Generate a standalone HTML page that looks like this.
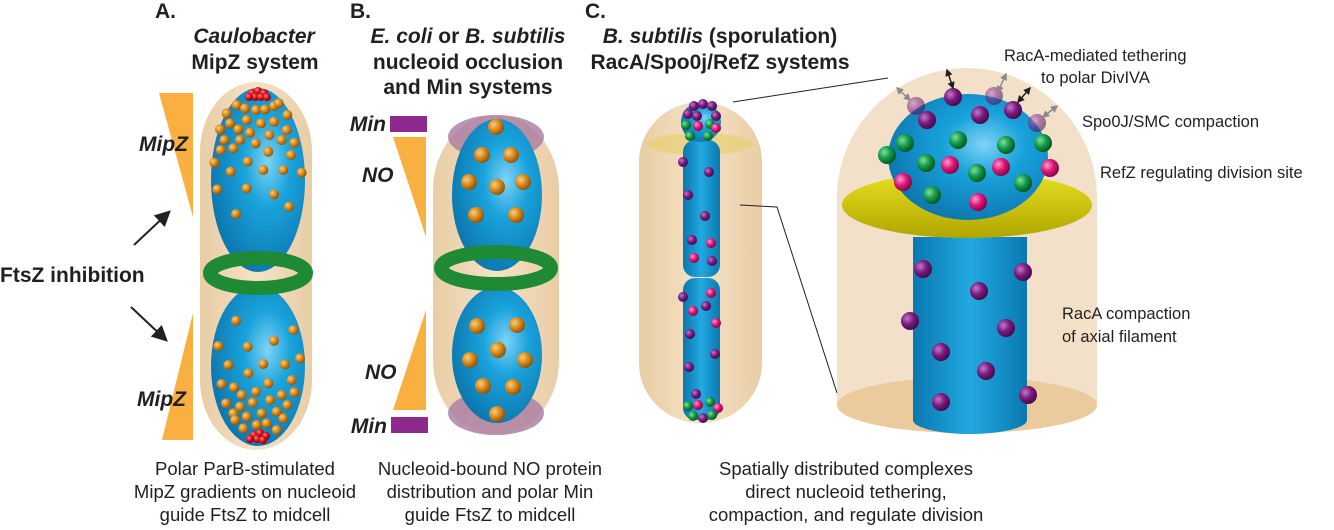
<!DOCTYPE html>
<html><head><meta charset="utf-8"><style>
html,body{margin:0;padding:0;background:#fff;}
svg{display:block;font-family:"Liberation Sans",Arial,sans-serif;}
.t{font-weight:bold;font-size:21px;fill:#231f20;}
.c{font-size:18.5px;fill:#231f20;}
.l{font-size:16.5px;fill:#231f20;}
</style></head><body>
<svg id="fig" width="1334" height="530" viewBox="0 0 1334 530" xmlns="http://www.w3.org/2000/svg">
<defs>
<radialGradient id="blue" cx="0.6" cy="0.4" r="0.7"><stop offset="0" stop-color="#7fd3f5"/><stop offset="0.35" stop-color="#1aa3dc"/><stop offset="1" stop-color="#0a6fa8"/></radialGradient>
<linearGradient id="bluec" x1="0" x2="1"><stop offset="0" stop-color="#0a78b0"/><stop offset="0.5" stop-color="#22a8e0"/><stop offset="1" stop-color="#0a78b0"/></linearGradient>
<linearGradient id="tan" x1="0" x2="1"><stop offset="0" stop-color="#e8cda5"/><stop offset="0.5" stop-color="#f6e2c6"/><stop offset="1" stop-color="#e8cda5"/></linearGradient>
<radialGradient id="or" cx="0.35" cy="0.35" r="0.7"><stop offset="0" stop-color="#f9cf7a"/><stop offset="0.5" stop-color="#d88a1c"/><stop offset="1" stop-color="#8a4e08"/></radialGradient>
<radialGradient id="rd" cx="0.35" cy="0.35" r="0.7"><stop offset="0" stop-color="#ff8080"/><stop offset="0.5" stop-color="#d9121a"/><stop offset="1" stop-color="#7a0008"/></radialGradient>
<radialGradient id="pu" cx="0.35" cy="0.35" r="0.7"><stop offset="0" stop-color="#c27ac8"/><stop offset="0.5" stop-color="#7a1a80"/><stop offset="1" stop-color="#3e0a44"/></radialGradient>
<radialGradient id="gr" cx="0.35" cy="0.35" r="0.7"><stop offset="0" stop-color="#7fe0a0"/><stop offset="0.5" stop-color="#129a48"/><stop offset="1" stop-color="#05501f"/></radialGradient>
<radialGradient id="mg" cx="0.35" cy="0.35" r="0.7"><stop offset="0" stop-color="#ff9cd0"/><stop offset="0.5" stop-color="#e0157a"/><stop offset="1" stop-color="#7a0540"/></radialGradient>
<linearGradient id="yl" x1="0" y1="0" x2="0" y2="1"><stop offset="0" stop-color="#e8e020"/><stop offset="1" stop-color="#b0a600"/></linearGradient>
<marker id="ah" markerWidth="8" markerHeight="8" refX="6" refY="4" orient="auto"><path d="M0,0 L8,4 L0,8 z" fill="#231f20"/></marker>
<marker id="sa" markerWidth="5" markerHeight="5" refX="4" refY="2.5" orient="auto-start-reverse"><path d="M0,0 L5,2.5 L0,5 z" fill="#231f20"/></marker>
<marker id="sg" markerWidth="5" markerHeight="5" refX="4" refY="2.5" orient="auto-start-reverse"><path d="M0,0 L5,2.5 L0,5 z" fill="#8a8a8a"/></marker>
</defs>

<!-- Panel A -->
<text class="t" x="155" y="18" font-size="18">A.</text>
<text class="t" x="254" y="43" text-anchor="middle" font-style="italic">Caulobacter</text>
<text class="t" x="255" y="69" text-anchor="middle">MipZ system</text>
<polygon points="159,93 193,93 193,217" fill="#f9b040"/>
<polygon points="193,313 193,440 162,440" fill="#f9b040"/>
<text class="t" x="139" y="151" font-style="italic" font-size="20">MipZ</text>
<text class="t" x="137" y="326" font-style="italic" font-size="20" transform="translate(0,0)"><tspan x="137" y="406">MipZ</tspan></text>
<text class="t" x="0" y="282" font-size="22">FtsZ inhibition</text>
<line x1="134" y1="245" x2="168" y2="213" stroke="#231f20" stroke-width="2" marker-end="url(#ah)"/>
<line x1="131" y1="307" x2="165" y2="339" stroke="#231f20" stroke-width="2" marker-end="url(#ah)"/>
<rect x="200" y="82" width="112" height="368" rx="56" ry="70" fill="url(#tan)"/>
<ellipse cx="258" cy="180" rx="47" ry="92" fill="url(#blue)"/>
<ellipse cx="258" cy="366" rx="47" ry="80" fill="url(#blue)"/>
<ellipse cx="258" cy="273" rx="48" ry="15" fill="none" stroke="#1e8a34" stroke-width="14"/>
<g id="dotsA"></g>

<!-- Panel B -->
<text class="t" x="350" y="18" font-size="18">B.</text>
<text class="t" x="468" y="43" text-anchor="middle"><tspan font-style="italic">E. coli</tspan> or <tspan font-style="italic">B. subtilis</tspan></text>
<text class="t" x="468" y="69" text-anchor="middle">nucleoid occlusion</text>
<text class="t" x="468" y="94" text-anchor="middle">and Min systems</text>
<rect x="390" y="116" width="37" height="16" fill="#8e2a8e"/>
<rect x="391" y="417" width="37" height="16" fill="#8e2a8e"/>
<text class="t" x="386" y="131" text-anchor="end" font-style="italic" font-size="19">Min</text>
<text class="t" x="387" y="433" text-anchor="end" font-style="italic" font-size="19">Min</text>
<polygon points="393,137 426,137 426,237" fill="#f9b040"/>
<polygon points="426,310 426,410 393,410" fill="#f9b040"/>
<text class="t" x="362" y="182" font-style="italic" font-size="19">NO</text>
<text class="t" x="365" y="298" font-style="italic" font-size="19"><tspan x="365" y="379">NO</tspan></text>
<rect x="433" y="115" width="126" height="320" rx="63" ry="75" fill="url(#tan)"/>
<ellipse cx="496" cy="137" rx="48" ry="22" fill="#a77aa0" opacity="0.8"/>
<ellipse cx="496" cy="413" rx="48" ry="22" fill="#a77aa0" opacity="0.8"/>
<ellipse cx="497" cy="195" rx="45" ry="76" fill="url(#blue)"/>
<ellipse cx="497" cy="355" rx="45" ry="68" fill="url(#blue)"/>
<ellipse cx="496" cy="268" rx="55" ry="16" fill="none" stroke="#1e8a34" stroke-width="14"/>
<g id="dotsB"></g>

<!-- Panel C -->
<text class="t" x="585" y="18" font-size="18">C.</text>
<text class="t" x="720" y="43" text-anchor="middle"><tspan font-style="italic">B. subtilis</tspan> (sporulation)</text>
<text class="t" x="720" y="69" text-anchor="middle">RacA/Spo0j/RefZ systems</text>
<rect x="639" y="102" width="123" height="321" rx="61" ry="60" fill="url(#tan)"/>
<ellipse cx="700" cy="144" rx="53" ry="11" fill="#e6d070" opacity="0.7"/>
<rect x="683" y="140" width="37" height="137" rx="12" fill="url(#bluec)"/>
<rect x="683" y="278" width="37" height="142" rx="12" fill="url(#bluec)"/>
<circle cx="701" cy="122" r="20" fill="url(#blue)"/>
<g id="dotsC"></g>
<polyline points="733,102 888,78" fill="none" stroke="#231f20" stroke-width="1"/>
<polyline points="740,205 777,207 837,393" fill="none" stroke="#231f20" stroke-width="1"/>

<!-- Big zoom -->
<ellipse cx="967" cy="405" rx="130" ry="28" fill="#eec898" opacity="0.9"/>
<path d="M837,405 L837,198 A130,130 0 0 1 1097,198 L1097,405 A130,28 0 0 1 837,405 Z" fill="#e8c89a" opacity="0.55"/>
<path d="M913,237 L1027,237 L1027,420 A57,14 0 0 1 913,420 Z" fill="url(#bluec)"/>
<ellipse cx="967" cy="205" rx="125" ry="33" fill="url(#yl)"/>
<ellipse cx="968" cy="157" rx="80" ry="63" fill="url(#blue)"/>
<g id="dotsBig"></g>
<g id="arrows"></g>
<text class="l" x="1004" y="61">RacA-mediated tethering</text>
<text class="l" x="1041" y="83">to polar DivIVA</text>
<text class="l" x="1082" y="127">Spo0J/SMC compaction</text>
<text class="l" x="1100" y="178">RefZ regulating division site</text>
<text class="l" x="1062" y="319">RacA compaction</text>
<text class="l" x="1062" y="342">of axial filament</text>

<!-- Captions -->
<g class="c" text-anchor="middle">
<text x="245" y="475">Polar ParB-stimulated</text><text x="245" y="498">MipZ gradients on nucleoid</text><text x="245" y="521">guide FtsZ to midcell</text></g>
<g class="c" text-anchor="middle">
<text x="490" y="475">Nucleoid-bound NO protein</text><text x="490" y="498">distribution and polar Min</text><text x="490" y="521">guide FtsZ to midcell</text></g>
<g class="c" text-anchor="middle">
<text x="846" y="475">Spatially distributed complexes</text><text x="846" y="498">direct nucleoid tethering,</text><text x="846" y="521">compaction, and regulate division</text></g>
</svg>
<script>
var NS="http://www.w3.org/2000/svg";
var dotsATop=[[320,75],[345,85],[378,90],[405,88],[432,78],[446,70],[290,100],[472,105],[350,120],[393,130],[432,125],[300,130],[270,148],[325,148],[360,158],[418,165],[470,150],[283,180],[330,180],[377,190],[455,180],[493,188],[272,210],[310,205],[415,215],[483,225],[253,248],[353,245],[302,275],[400,270],[460,270],[515,278],[262,328],[350,325],[432,343],[477,380],[318,402]];
var dotsABot=[[318,722],[490,750],[265,798],[353,800],[432,782],[295,855],[400,852],[465,853],[510,835],[355,880],[415,910],[485,900],[275,912],[312,922],[378,935],[455,945],[493,937],[335,945],[288,970],[330,980],[368,968],[420,960],[472,975],[310,1000],[350,1010],[395,1000],[440,995],[315,1020],[460,1015],[340,1045],[380,1035],[410,1030],[440,1050]];
var redA=[[252,93],[258,91],[264,93],[255,97],[261,97],[249,97],[267,97],[254,435],[260,433],[266,436],[257,439],[263,440],[250,439]];
var dotsB=[[496,127],[482,155],[511,155],[469,182],[497,187],[523,182],[476,215],[516,215],[477,326],[517,325],[498,350],[470,360],[525,360],[483,386],[513,387],[497,414]];
var dotsC=[[683,162,"pu"],[709,172,"pu"],[688,195,"pu"],[705,216,"pu"],[692,240,"pu"],[711,243,"mg"],[694,258,"mg"],[712,261,"pu"],[683,297,"pu"],[711,293,"mg"],[693,311,"mg"],[706,306,"pu"],[716,323,"mg"],[690,334,"pu"],[715,354,"pu"],[689,367,"pu"],[696,394,"pu"],
[694,106,"pu"],[703,104,"pu"],[712,106,"pu"],[688,114,"pu"],[716,116,"pu"],[697,116,"pu"],[686,125,"gr"],[698,126,"mg"],[710,124,"gr"],[716,128,"mg"],[690,136,"gr"],[708,136,"gr"],
[688,406,"gr"],[698,405,"mg"],[710,402,"gr"],[718,408,"mg"],[693,416,"gr"],[703,418,"pu"],[712,415,"gr"]];
var dotsBig=[[916,106,"pu",0.55],[994,96,"pu",0.55],[1037,123,"pu",0.55],[953,97,"pu",1],[927,120,"pu",1],[980,115,"pu",1],[1013,110,"pu",1],
[905,143,"gr",1],[958,140,"gr",1],[1006,145,"gr",1],[1043,143,"gr",1],[926,163,"gr",1],[977,173,"gr",1],[1023,183,"gr",1],[932,195,"gr",1],[887,155,"gr",1],
[950,165,"mg",1],[1001,167,"mg",1],[903,182,"mg",1],[978,202,"mg",1],[1050,168,"mg",1],
[923,269,"pu",1],[1023,272,"pu",1],[979,291,"pu",1],[910,321,"pu",1],[1006,328,"pu",1],[941,352,"pu",1],[986,371,"pu",1],[941,402,"pu",1],[1028,395,"pu",1]];
var arrowsBlack=[[947,70,953,88],[1030,88,1018,102]];
var arrowsGray=[[897,88,910,100],[1006,74,998,92],[1057,106,1043,117]];
function dot(g,x,y,r,fill,name,op){
  var c=document.createElementNS(NS,"circle");
  c.setAttribute("cx",x);c.setAttribute("cy",y);c.setAttribute("r",r);
  c.setAttribute("fill","url(#"+fill+")");
  if(op)c.setAttribute("opacity",op);
  
  
  g.appendChild(c);
}
var gA=document.getElementById("dotsA");
dotsATop.concat(dotsABot).forEach(function(p){dot(gA,p[0]/3+130,p[1]/3+80,5,"or","mipz-particle");});
redA.forEach(function(p){dot(gA,p[0],p[1],4,"rd","parb-particle");});
var gB=document.getElementById("dotsB");
dotsB.forEach(function(p){dot(gB,p[0],p[1],8,"or","no-protein-particle");});
var gC=document.getElementById("dotsC");
dotsC.forEach(function(p){dot(gC,p[0],p[1],5,p[2],"protein-particle-small");});
var gD=document.getElementById("dotsBig");
dotsBig.forEach(function(p){dot(gD,p[0],p[1],9,p[2],"protein-particle-large",p[3]);});
var gE=document.getElementById("arrows");
function arr(p,col,mk){
  var l=document.createElementNS(NS,"line");
  l.setAttribute("x1",p[0]);l.setAttribute("y1",p[1]);l.setAttribute("x2",p[2]);l.setAttribute("y2",p[3]);
  l.setAttribute("stroke",col);l.setAttribute("stroke-width","1.5");
  l.setAttribute("marker-start","url(#"+mk+")");l.setAttribute("marker-end","url(#"+mk+")");
  
  
  gE.appendChild(l);
}
arrowsBlack.forEach(function(p){arr(p,"#231f20","sa");});
arrowsGray.forEach(function(p){arr(p,"#8a8a8a","sg");});
</script>
</body></html>
